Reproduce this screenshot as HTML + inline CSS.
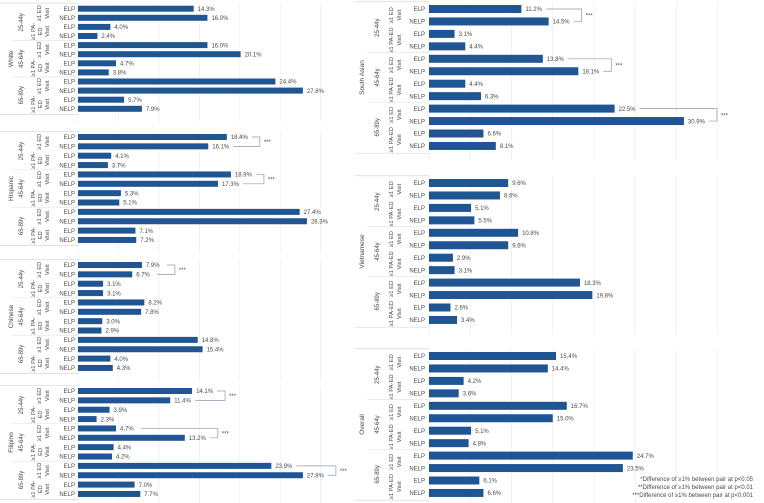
<!DOCTYPE html>
<html><head><meta charset="utf-8"><style>
html,body{margin:0;padding:0;background:#fff;}
svg{display:block;font-family:"Liberation Sans",sans-serif;}
</style></head><body>
<svg id="chart" width="764" height="503" viewBox="0 0 764 503" xmlns="http://www.w3.org/2000/svg"></svg>
<script>
const ages = ["25-44y","45-64y","65-89y"];
const subs = ["≥1 ED Visit","≥1 PA-ED Visit"];
const groups = ["ELP","NELP"];
const whiteVals = [14.3,16.0,4.0,2.4,16.0,20.1,4.7,3.8,24.4,27.8,5.7,7.9];
const hispanicVals = [18.4,16.1,4.1,3.7,18.9,17.3,5.3,5.1,27.4,28.3,7.1,7.2];
const chineseVals = [7.9,6.7,3.1,3.1,8.2,7.8,3.0,2.9,14.8,15.4,4.0,4.3];
const filipinoVals = [14.1,11.4,3.9,2.3,4.7,13.2,4.4,4.2,23.9,27.8,7.0,7.7];
const southAsianVals = [11.2,14.5,3.1,4.4,13.8,18.1,4.4,6.3,22.5,30.9,6.6,8.1];
const vietnameseVals = [9.6,8.6,5.1,5.5,10.8,9.6,2.9,3.1,18.3,19.8,2.6,3.4];
const overallVals = [15.4,14.4,4.2,3.6,16.7,15.0,5.1,4.8,24.7,23.5,6.1,6.6];
// significance per age group (ED visit pair)
const whiteSig = [0,0,0], hispanicSig=[1,1,0], chineseSig=[1,0,0], filipinoSig=[1,1,1];
const southAsianSig=[1,1,1], vietnameseSig=[0,0,0], overallSig=[0,0,0];
const leftTicks=[0,5,10,15,20,25,30], rightTicks=[0,5,10,15,20,25,30,35];

const svg=document.getElementById('chart');
const NS='http://www.w3.org/2000/svg';
function mk(tag,attrs,parent){const e=document.createElementNS(NS,tag);for(const k in attrs)e.setAttribute(k,attrs[k]);(parent||svg).appendChild(e);return e;}
function txt(s,x,y,size,anchor,rot,parent){const t=mk('text',{x:x,y:y,'font-size':size,fill:'#4a4a4a','text-anchor':anchor||'start'},parent);if(rot)t.setAttribute('transform','rotate(-90 '+x+' '+y+')');t.textContent=s;return t;}

const L={x0:78,scale:8.09,ticks:leftTicks,bh:6,cat:13,age:23,subED:[39,47],subPA:[33,40,47],subRightPA:false,lab:75,lx:0};
const R={x0:429,scale:8.25,ticks:rightTicks,bh:8,cat:364,age:379,subED:[391,399],subPA:[391,399],subRightPA:true,lab:425,lx:355};

const panels=[
 {name:'White',vals:whiteVals,sig:whiteSig,y0:8.7,sp:9.1,c:L},
 {name:'Hispanic',vals:hispanicVals,sig:hispanicSig,y0:137,sp:9.36,c:L},
 {name:'Chinese',vals:chineseVals,sig:chineseSig,y0:265,sp:9.36,c:L},
 {name:'Filipino',vals:filipinoVals,sig:filipinoSig,y0:391,sp:9.36,c:L},
 {name:'South Asian',vals:southAsianVals,sig:southAsianSig,y0:9,sp:12.45,c:R},
 {name:'Vietnamese',vals:vietnameseVals,sig:vietnameseSig,y0:183,sp:12.45,c:R},
 {name:'Overall',vals:overallVals,sig:overallSig,y0:356,sp:12.45,c:R}
];

panels.forEach(p=>{
 const c=p.c;
 const g=mk('g',{});
 
 
 const top=p.y0-p.sp/2-1, bot=p.y0+11*p.sp+p.sp/2+1;
 const xs=v=>c.x0+v*c.scale;
 c.ticks.forEach(t=>{const l=mk('line',{x1:xs(t),x2:xs(t),y1:top,y2:bot+8,stroke:'#ececec','stroke-width':0.7},g);
  
  });
 mk('line',{x1:c.lx,x2:c.x0,y1:top,y2:top,stroke:'#d8d8d8','stroke-width':0.7},g);
 mk('line',{x1:c.lx,x2:c.x0,y1:bot,y2:bot,stroke:'#d8d8d8','stroke-width':0.7},g);
 const ct=txt(p.name,c.cat,(top+bot)/2,6.5,'middle',true,g);
 
 
 ages.forEach((a,ai)=>{
  const gt=p.y0+ai*4*p.sp-p.sp/2, gb=gt+4*p.sp;
  if(ai>0) mk('line',{x1:c.lx+12,x2:c.x0,y1:gt,y2:gt,stroke:'#e0e0e0','stroke-width':0.6},g);
  const at=txt(a,c.age,(gt+gb)/2,6,'middle',true,g);
  
  
  subs.forEach((s,si)=>{
   const cy=p.y0+(ai*4+si*2+0.5)*p.sp;
   let lines, xsub;
   if(si===0){lines=['≥1 ED','Visit'];xsub=c.subED;}
   else if(c.subRightPA){lines=['≥1 PA-ED','Visit'];xsub=c.subPA;}
   else {lines=['≥1 PA-','ED','Visit'];xsub=c.subPA;}
   lines.forEach((ln,li)=>{const st=txt(ln,xsub[li]+2,cy,5.8,'middle',true,g);
     
     });
  });
 });
 p.vals.forEach((v,i)=>{
  const y=p.y0+i*p.sp;
  const lt=txt(groups[i%2],c.lab,y+2.2,6,'end',false,g);
  
  
  const r=mk('rect',{x:c.x0,y:y-c.bh/2,width:v*c.scale,height:c.bh,fill:'#1f5592'},g);
  
  
  const vt=txt(v.toFixed(1)+'%',xs(v)+4,y+2.2,6,'start',false,g);
  
  
 });
 p.sig.forEach((s,ai)=>{
  if(!s)return;
  const v1=p.vals[ai*4],v2=p.vals[ai*4+1];
  const y1=p.y0+ai*4*p.sp,y2=y1+p.sp;
  const bx=xs(Math.max(v1,v2))+33;
  const b=mk('path',{d:'M'+(xs(v1)+25)+' '+y1+'H'+bx+'V'+y2+'H'+(xs(v2)+25),fill:'none',stroke:'#8a9bb0','stroke-width':0.7},g);
  
  
  const st=txt('***',bx+4,(y1+y2)/2+2.5,6,'start',false,g);
  
  
 });
});
const notes=['*Difference of ≥1% between pair at p<0.05','**Difference of ≥1% between pair at p<0.01','***Difference of ≥1% between pair at p<0.001'];
notes.forEach((n,i)=>{const t=txt(n,753,481+i*8,6,'end',false);
 
 });
</script>
</body></html>
